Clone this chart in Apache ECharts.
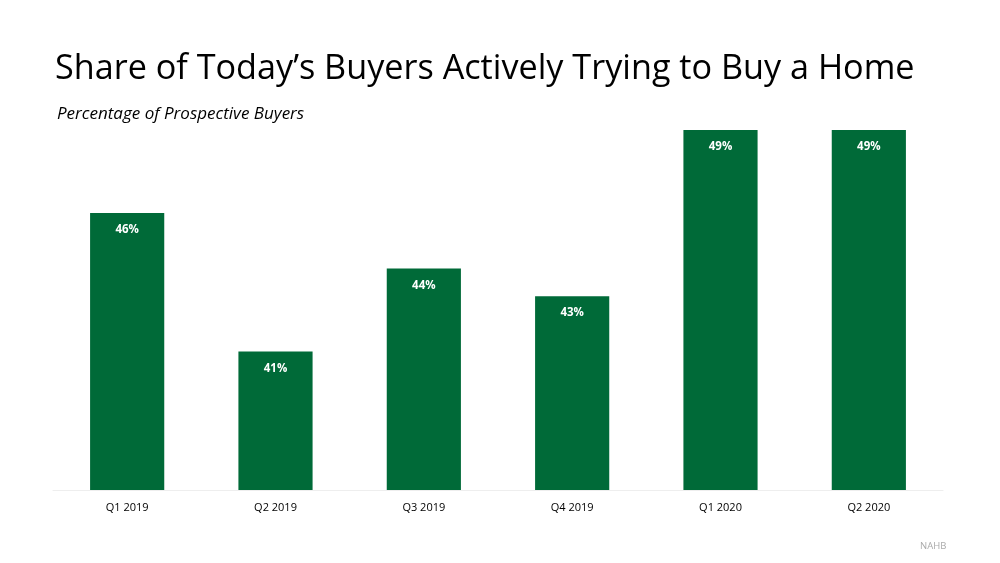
<!DOCTYPE html>
<html><head><meta charset="utf-8">
<script src="https://cdn.jsdelivr.net/npm/echarts@6/dist/echarts.min.js"></script>
<style>html,body{margin:0;padding:0;background:#fff}#c{width:1000px;height:563px}</style>
</head><body><div id="c"></div>
<script>
const categories = ['Q1 2019','Q2 2019','Q3 2019','Q4 2019','Q1 2020','Q2 2020'];
const values = [46, 41, 44, 43, 49, 49];
const titleText = 'Share of Today\u2019s Buyers Actively Trying to Buy a Home';
const subtitleText = 'Percentage of Prospective Buyers';
const sourceText = 'NAHB';

const chart = echarts.init(document.getElementById('c'), null, {renderer:'canvas'});
chart.setOption({
  backgroundColor:'#fff',
  animation:false,
  title:[
    {text:titleText, left:50, top:47, textStyle:{fontFamily:'Open Sans', fontWeight:'normal', fontSize:34.2, color:'#000'}},
    {text:subtitleText, left:52, top:101, textStyle:{fontFamily:'Open Sans', fontStyle:'italic', fontWeight:'normal', fontSize:17, color:'#000'}},
    {text:sourceText, left:915, top:536, textStyle:{fontFamily:'Open Sans', fontWeight:'normal', fontSize:9.5, color:'#aaa'}}
  ],
  grid:{left:53, right:57, top:130, bottom:73},
  xAxis:{type:'category', data:categories,
    axisLine:{lineStyle:{color:'#eeeeee'}}, axisTick:{show:false},
    axisLabel:{fontFamily:'Open Sans', fontSize:11, color:'#000', margin:12}},
  yAxis:{type:'value', min:36, max:49, show:false, splitLine:{show:false}},
  series:[{type:'bar', data:values, barWidth:'50%',
    itemStyle:{color:'#006A38'},
    label:{show:true, position:'insideTop', distance:11, formatter:'{c}%',
      fontFamily:'Open Sans', fontWeight:'bold', fontSize:11.5, color:'#fff'}}]
});
</script></body></html>
